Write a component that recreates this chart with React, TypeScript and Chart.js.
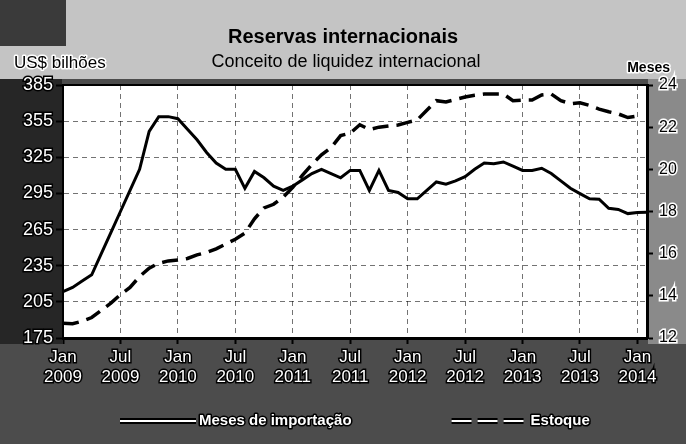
import React, { useEffect, useRef } from 'react';
import { Chart, registerables } from 'chart.js';

Chart.register(...registerables);

const FONT = '"Liberation Sans", Arial, sans-serif';

// Tick labels for the x axis (every 6 months starting Jan 2009)
const xTickLabels: string[][] = [
  ['Jan', '2009'], ['Jul', '2009'], ['Jan', '2010'], ['Jul', '2010'],
  ['Jan', '2011'], ['Jul', '2011'], ['Jan', '2012'], ['Jul', '2012'],
  ['Jan', '2013'], ['Jul', '2013'], ['Jan', '2014'],
];
const monthsPerTick = 6;

// Meses de importação (right axis, months) – Jan 2009 .. Feb 2014
const mesesImportacao: number[] = [
  14.2, 14.4, 14.7, 15.0, 16.0, 17.0, 18.0, 19.0, 20.0, 21.8,
  22.5, 22.5, 22.4, 21.9, 21.4, 20.8, 20.3, 20.0, 20.0, 19.1,
  19.9, 19.6, 19.2, 19.0, 19.2, 19.5, 19.8, 20.0, 19.8, 19.6,
  19.95, 19.95, 19.0, 19.95, 19.0, 18.9, 18.6, 18.6, 19.0, 19.4,
  19.3, 19.45, 19.65, 20.0, 20.3, 20.27, 20.35, 20.15, 19.95, 19.95,
  20.05, 19.8, 19.45, 19.1, 18.85, 18.6, 18.58, 18.15, 18.1, 17.9,
  17.95, 17.96,
];

// Estoque (left axis, US$ bilhões) – Jan 2009 .. Jan 2014
const estoque: number[] = [
  187.2, 186.8, 189, 192, 198, 204, 211, 217, 226, 233,
  237, 239, 239.7, 241, 244, 246, 249, 253, 257, 262,
  274, 283, 286, 292, 300, 310, 319, 327, 333, 343,
  345, 352, 348, 350, 351, 351.8, 354, 356, 364, 372,
  371, 373, 375, 376.5, 377.5, 377.5, 377.5, 372, 372.5, 372.5,
  376.7, 377.5, 372, 369.5, 370.3, 368, 365, 362.8, 361, 358,
  359.3,
];

const seriesNames = ['Meses de importação', 'Estoque'];
const titleText = 'Reservas internacionais';
const subtitleText = 'Conceito de liquidez internacional';
const leftAxisTitle = 'US$ bilhões';
const rightAxisTitle = 'Meses';

const bgPlugin = {
  id: 'bgPlugin',
  beforeDraw(chart: any) {
    const { ctx, width, height, chartArea: a } = chart;
    ctx.save();
    ctx.fillStyle = '#4c4c4c';
    ctx.fillRect(0, 0, width, height);
    ctx.fillStyle = '#c4c4c4';
    ctx.fillRect(0, 0, width, a.top - 6);
    ctx.fillStyle = '#3a3a3a';
    ctx.fillRect(0, 0, 66, 46);
    ctx.fillStyle = '#262626';
    ctx.fillRect(0, a.top - 6, a.left - 1, a.bottom - a.top + 12);
    ctx.fillStyle = '#8a8a8a';
    ctx.fillRect(a.right + 1, a.top - 6, width - a.right, a.bottom - a.top + 12);
    ctx.fillStyle = '#ffffff';
    ctx.fillRect(a.left, a.top, a.right - a.left, a.bottom - a.top);
    ctx.restore();
  },
};

function outlinedText(ctx: CanvasRenderingContext2D, text: string, x: number, y: number, fill: string, stroke: string | null, sw: number) {
  if (stroke) {
    ctx.lineWidth = sw;
    ctx.strokeStyle = stroke;
    ctx.lineJoin = 'round';
    ctx.strokeText(text, x, y);
  }
  ctx.fillStyle = fill;
  ctx.fillText(text, x, y);
}

const textPlugin = {
  id: 'textPlugin',
  afterDraw(chart: any) {
    const { ctx, chartArea: a } = chart;
    ctx.save();
    // top frame line
    ctx.strokeStyle = '#000';
    ctx.lineWidth = 2;
    ctx.beginPath();
    ctx.moveTo(a.left - 1, a.top);
    ctx.lineTo(a.right + 1, a.top);
    ctx.stroke();

    ctx.textBaseline = 'alphabetic';
    ctx.textAlign = 'center';
    ctx.font = `bold 20px ${FONT}`;
    outlinedText(ctx, titleText, 343, 43, '#000', null, 0);
    ctx.font = `18px ${FONT}`;
    outlinedText(ctx, subtitleText, 346, 67, '#000', null, 0);

    ctx.textAlign = 'left';
    ctx.font = `17px ${FONT}`;
    outlinedText(ctx, leftAxisTitle, 14, 68, '#000', '#fff', 3);
    ctx.textAlign = 'right';
    ctx.font = `bold 14px ${FONT}`;
    outlinedText(ctx, rightAxisTitle, 670, 72, '#000', '#fff', 3);

    // legend
    const ly = 421;
    let x = 120;
    const lineLen = 76;
    ctx.font = `bold 15px ${FONT}`;
    ctx.textAlign = 'left';
    ctx.textBaseline = 'middle';
    chart.data.datasets.forEach((ds: any) => {
      ctx.save();
      ctx.strokeStyle = '#000';
      ctx.lineWidth = 6;
      ctx.setLineDash(ds.borderDash ? [20, 6] : []);
      ctx.beginPath();
      ctx.moveTo(x, ly);
      ctx.lineTo(x + lineLen, ly);
      ctx.stroke();
      ctx.strokeStyle = '#fff';
      ctx.lineWidth = 2;
      ctx.beginPath();
      ctx.moveTo(x, ly);
      ctx.lineTo(x + lineLen, ly);
      ctx.stroke();
      ctx.restore();
      x += lineLen + 3;
      outlinedText(ctx, ds.label, x, ly, '#fff', '#000', 3);
      x += ctx.measureText(ds.label).width + 100;
    });
    ctx.restore();
  },
};

export default function App() {
  const canvasRef = useRef<HTMLCanvasElement | null>(null);

  useEffect(() => {
    if (!canvasRef.current) return;
    const chart = new Chart(canvasRef.current, {
      type: 'line',
      data: {
        datasets: [
          {
            label: seriesNames[0],
            data: mesesImportacao.map((v, i) => ({ x: i, y: v })),
            yAxisID: 'y1',
            borderColor: '#000',
            borderWidth: 3,
            pointRadius: 0,
            tension: 0,
            fill: false,
          },
          {
            label: seriesNames[1],
            data: estoque.map((v, i) => ({ x: i, y: v })),
            yAxisID: 'y',
            borderColor: '#000',
            borderWidth: 3.5,
            borderDash: [16, 8],
            pointRadius: 0,
            tension: 0,
            fill: false,
          },
        ],
      },
      options: {
        animation: false,
        responsive: true,
        maintainAspectRatio: false,
        layout: { padding: { top: 85, left: 0, right: 0, bottom: 0 } },
        plugins: {
          legend: { display: false },
          title: { display: false },
          tooltip: { enabled: false },
        },
        scales: {
          x: {
            type: 'linear',
            min: 0,
            max: mesesImportacao.length - 1,
            afterFit(scale: any) { scale.height = 106; },
            ticks: {
              stepSize: monthsPerTick,
              includeBounds: false,
              autoSkip: false,
              maxRotation: 0,
              padding: 3,
              color: '#fff',
              textStrokeColor: '#000',
              textStrokeWidth: 3,
              font: { family: FONT, size: 17, lineHeight: 1.2 },
              callback: (v: any) => (v % monthsPerTick === 0 ? xTickLabels[v / monthsPerTick] : ''),
            },
            grid: {
              color: 'rgba(0,0,0,0.55)',
              lineWidth: 1,
              tickLength: 6,
              tickColor: '#000',
              tickWidth: 2,
            },
            border: { color: '#000', width: 3, dash: [5, 4] },
          },
          y: {
            type: 'linear',
            position: 'left',
            min: 175,
            max: 385,
            afterFit(scale: any) { scale.width = 63; },
            ticks: {
              stepSize: 30,
              padding: 3,
              color: '#fff',
              textStrokeColor: '#000',
              textStrokeWidth: 3,
              font: { family: FONT, size: 18 },
            },
            grid: {
              color: 'rgba(0,0,0,0.55)',
              lineWidth: 1,
              tickLength: 7,
              tickColor: '#000',
              tickWidth: 2,
            },
            border: { color: '#000', width: 2, dash: [5, 4] },
          },
          y1: {
            type: 'linear',
            position: 'right',
            min: 12,
            max: 24,
            afterFit(scale: any) { scale.width = 39; },
            ticks: {
              stepSize: 2,
              padding: 6,
              color: '#000',
              textStrokeColor: '#fff',
              textStrokeWidth: 3,
              font: { family: FONT, size: 16 },
            },
            grid: {
              drawOnChartArea: false,
              tickLength: 6,
              tickColor: '#000',
              tickWidth: 2,
            },
            border: { color: '#000', width: 3 },
          },
        },
      },
      plugins: [bgPlugin, textPlugin],
    } as any);
    return () => chart.destroy();
  }, []);

  return (
    <div style={{ position: 'fixed', left: 0, top: 0, width: 686, height: 444 }}>
      <canvas ref={canvasRef} />
    </div>
  );
}
